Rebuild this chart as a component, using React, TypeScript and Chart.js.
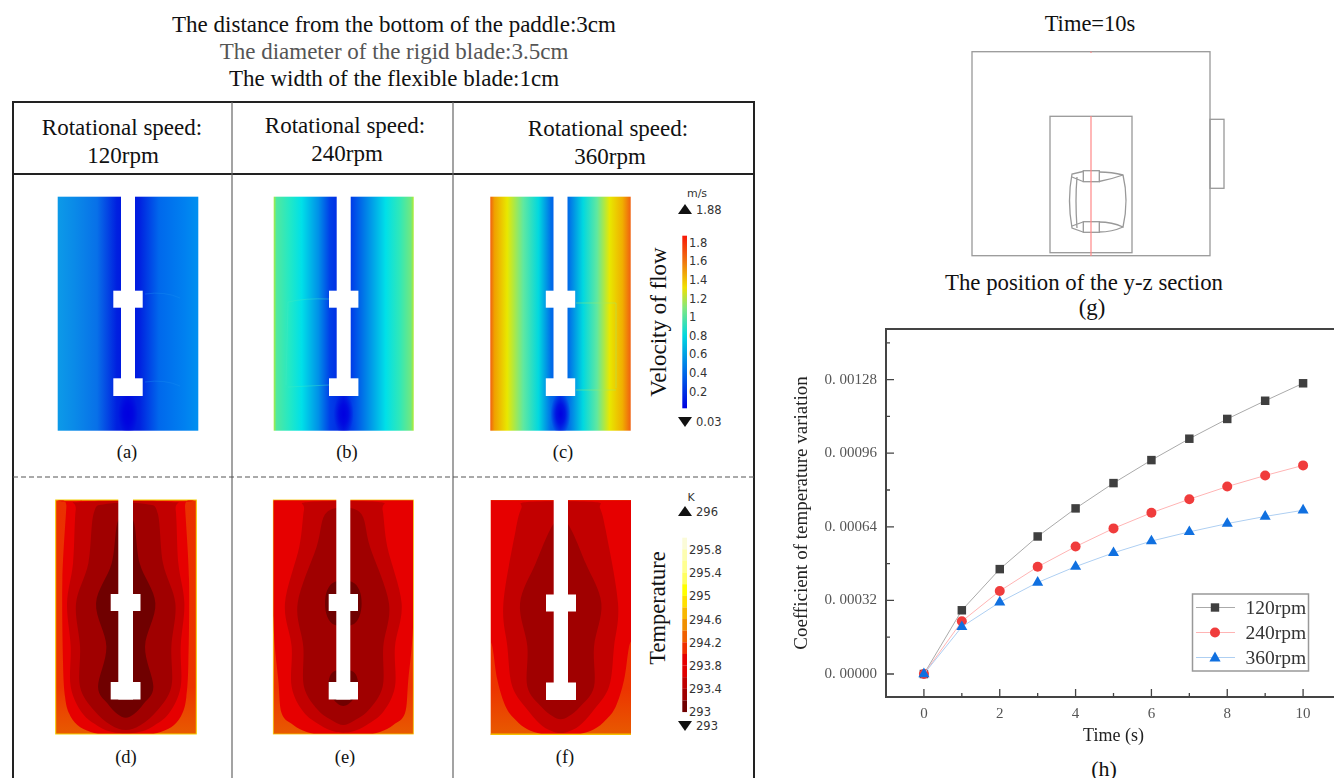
import React, { useEffect, useRef } from "react";
import { Chart, registerables } from "chart.js";

Chart.register(...registerables);

const times = [0, 1, 2, 3, 4, 5, 6, 7, 8, 9, 10];
const rpm120 = [0, 0.000277, 0.000456, 0.000598, 0.00072, 0.00083, 0.00093, 0.001023, 0.001109, 0.001188, 0.001264];
const rpm240 = [0, 0.000229, 0.000361, 0.000466, 0.000554, 0.000633, 0.000701, 0.00076, 0.000815, 0.000863, 0.000907];
const rpm360 = [0, 0.000205, 0.000312, 0.000398, 0.000467, 0.000527, 0.000578, 0.000618, 0.000654, 0.000685, 0.000712];
const seriesNames = ["120rpm", "240rpm", "360rpm"];
const yTickValues = [0, 0.00016, 0.00032, 0.00048, 0.00064, 0.0008, 0.00096, 0.00112, 0.00128, 0.00144];
const yTickLabels = ["0. 00000", "", "0. 00032", "", "0. 00064", "", "0. 00096", "", "0. 00128", ""];
const xTickLabels = ["0", "", "2", "", "4", "", "6", "", "8", "", "10"];
const velocityLabels = ["1.8", "1.6", "1.4", "1.2", "1", "0.8", "0.6", "0.4", "0.2"];
const temperatureLabels = ["295.8", "295.4", "295", "294.6", "294.2", "293.8", "293.4", "293"];
const temperatureBands = ["#fbfbd8", "#fdfdb0", "#ffff90", "#ffff60", "#ffff00", "#ffe000", "#f8b800", "#f09000", "#f06000", "#f03000", "#e60000", "#e00000", "#c00000", "#a00000", "#700000"];

const SERIF = "'Liberation Serif', serif";
const SANS = "'DejaVu Sans', sans-serif";

type Prof = [number, number][];

function blob(prof: Prof, cx: number, off: number) {
  const right = prof.map(([y, h]) => [cx + h / 3, off + y / 3]);
  const left = prof.filter(([, h]) => h > 0).map(([y, h]) => [cx - h / 3, off + y / 3]).reverse();
  const p = [...right, ...left];
  const n = p.length;
  let d = `M${p[0][0]},${p[0][1]}`;
  for (let i = 0; i < n; i++) {
    const a = p[(i - 1 + n) % n], b = p[i], c = p[(i + 1) % n], e = p[(i + 2) % n];
    d += `C${b[0] + (c[0] - a[0]) / 6},${b[1] + (c[1] - a[1]) / 6} ${c[0] - (e[0] - b[0]) / 6},${c[1] - (e[1] - b[1]) / 6} ${c[0]},${c[1]}`;
  }
  return d + "Z";
}

const T = ({ x, y, s, c = "#111", a = "middle", f = SERIF, r, children }: any) => (
  <text x={x} y={y} fontSize={s} fill={c} textAnchor={a} fontFamily={f} dominantBaseline="central"
    transform={r ? `rotate(${r} ${x} ${y})` : undefined}>{children}</text>
);

const Paddle = ({ sx0, sx1, hx0, hx1, y0, h1, h2, h3, h4 }: any) => (
  <g fill="#fff">
    <rect x={sx0} y={y0 - 1} width={sx1 - sx0} height={h4 - y0 + 1} />
    <rect x={hx0} y={h1} width={hx1 - hx0} height={h2 - h1} />
    <rect x={hx0} y={h3} width={hx1 - hx0} height={h4 - h3} />
  </g>
);

const velA = [["0", "#0c9ae8"], [".12", "#0a8ae8"], [".28", "#0870e8"], [".42", "#0020e0"], [".5", "#0010e0"], [".58", "#0020e0"], [".72", "#0068ec"], [".9", "#0080f0"], ["1", "#0090f0"]];
const velB = [["0", "#a8ec40"], [".02", "#50e8a0"], [".12", "#20e8c8"], [".2", "#00e0e8"], [".32", "#0090e8"], [".4", "#0040e8"], [".5", "#0020e0"], [".56", "#0040e8"], [".68", "#0090e8"], [".8", "#00e0e8"], [".9", "#30e8b8"], [".98", "#70e880"], ["1", "#b0ec30"]];
const velC = [["0", "#f06010"], [".03", "#f0a000"], [".12", "#e8e800"], [".235", "#60e8a0"], [".345", "#00d8e0"], [".43", "#0070e8"], [".5", "#0040e8"], [".56", "#0070e8"], [".66", "#00d8e0"], [".76", "#60e8a0"], [".85", "#e8e800"], [".94", "#f0b000"], ["1", "#f06010"]];

function Heat() {
  return (
    <svg width={1334} height={778} style={{ position: "absolute", left: 0, top: 0 }}>
      <defs>
        {[velA, velB, velC].map((st, i) => (
          <linearGradient key={i} id={`v${i}`} x1="0" x2="1" y1="0" y2="0">
            {st.map(([o, c]) => <stop key={o} offset={o} stopColor={c} />)}
          </linearGradient>
        ))}
        <radialGradient id="spot">
          <stop offset="0" stopColor="#0000e0" />
          <stop offset=".45" stopColor="#0000e0" stopOpacity=".75" />
          <stop offset="1" stopColor="#0000e0" stopOpacity="0" />
        </radialGradient>
        <linearGradient id="vbar" x1="0" x2="0" y1="0" y2="1">
          <stop offset="0" stopColor="#f81808" />
          <stop offset=".14" stopColor="#f07010" />
          <stop offset=".3" stopColor="#f0e000" />
          <stop offset=".42" stopColor="#80e880" />
          <stop offset=".58" stopColor="#00d8e0" />
          <stop offset=".78" stopColor="#0070e8" />
          <stop offset="1" stopColor="#0000e0" />
        </linearGradient>
        <linearGradient id="heatBase" x1="0" x2="0" y1="0" y2="1">
          <stop offset="0" stopColor="#ea3000" />
          <stop offset=".8" stopColor="#ec3400" />
          <stop offset="1" stopColor="#e85a00" />
        </linearGradient>
        <clipPath id="cd"><rect x={56} y={500.5} width={140} height={233} /></clipPath>
        <clipPath id="ce"><rect x={273.5} y={500.5} width={139.5} height={233} /></clipPath>
        <clipPath id="cf"><rect x={491} y={500.5} width={140} height={233} /></clipPath>
      </defs>

      {/* titles */}
      <T x={394} y={24} s={23}>The distance from the bottom of the paddle:3cm</T>
      <T x={394} y={51} s={23} c="#555">The diameter of the rigid blade:3.5cm</T>
      <T x={394} y={78} s={23}>The width of the flexible blade:1cm</T>

      {/* table */}
      <rect x={13} y={102} width={741} height={690} fill="none" stroke="#222" strokeWidth={2} />
      <line x1={13} x2={754} y1={174} y2={174} stroke="#222" strokeWidth={2} />
      <line x1={232} x2={232} y1={102} y2={778} stroke="#666" strokeWidth={1.2} />
      <line x1={453} x2={453} y1={102} y2={778} stroke="#666" strokeWidth={1.2} />
      <line x1={13} x2={754} y1={477} y2={477} stroke="#555" strokeWidth={1} strokeDasharray="5 3" />

      <T x={122} y={127} s={23}>Rotational speed:</T><T x={123} y={155} s={23}>120rpm</T>
      <T x={345} y={125} s={23}>Rotational speed:</T><T x={347} y={153} s={23}>240rpm</T>
      <T x={608} y={128} s={23}>Rotational speed:</T><T x={610} y={156} s={23}>360rpm</T>

      {/* velocity panels */}
      {[[57.7, 198.3, 128], [273.7, 413.7, 343.7], [490.3, 630.7, 560.5]].map(([a, b, c], i) => (
        <g key={i}>
          <rect x={a} y={196.7} width={b - a} height={234} fill={`url(#v${i})`} />
          <ellipse cx={c} cy={414} rx={10} ry={21} fill="url(#spot)" />
          <rect x={c - 30} y={431} width={60} height={14} fill="#fff" />
          <Paddle sx0={c - 7} sx1={c + 7} hx0={c - 14.7} hx1={c + 14.7} y0={196.7} h1={290.7} h2={307.7} h3={378.3} h4={396} />
        </g>
      ))}
      <path d="M145,294 Q165,291 180,298 M145,382 Q165,379 180,386" fill="none" stroke="#1a8cf0" strokeWidth={0.8} opacity={0.5} />
      <path d="M329,299 Q305,298 288,302 L286,385 M329,385 L288,387" fill="none" stroke="#40e8c0" strokeWidth={0.8} opacity={0.5} />
      <path d="M576,303 L616,303 L616,388 M576,390 L616,390" fill="none" stroke="#a0e860" strokeWidth={0.8} opacity={0.6} />

      <T x={127} y={452} s={18.5}>(a)</T>
      <T x={347} y={452} s={18.5}>(b)</T>
      <T x={563} y={452} s={18.5}>(c)</T>

      {/* temperature panels */}
      <g>
        <rect x={55.7} y={500} width={140.6} height={234} fill="url(#heatBase)" stroke="#f4d000" strokeWidth={1} />
        <g clipPath="url(#cd)">
          <path d={blob([[64, 178], [80, 178], [300, 190], [550, 188], [650, 182], [700, 170], [735, 145], [756, 105], [768, 50], [772, 0]], 125.7, 480)} fill="#e60000" />
          <path d={blob([[66, 135], [90, 150], [250, 158], [370, 176], [500, 165], [620, 165], [700, 130], [740, 80], [756, 40], [760, 0]], 125.7, 480)} fill="#c20000" />
          <path d={blob([[72, 60], [100, 96], [250, 112], [370, 149], [500, 137], [620, 137], [690, 96], [735, 45], [750, 0]], 125.7, 480)} fill="#a00000" />
          <path d={blob([[120, 22], [250, 42], [370, 89], [500, 58], [620, 83], [670, 55], [702, 25], [713, 0]], 125.7, 480)} fill="#700000" />
        </g>
        <Paddle sx0={118.3} sx1={133} hx0={110.7} hx1={140.5} y0={500} h1={594} h2={611} h3={682} h4={699.5} />
      </g>
      <g>
        <rect x={273.3} y={500} width={140} height={234} fill="url(#heatBase)" stroke="#f4c000" strokeWidth={0.8} />
        <g clipPath="url(#ce)">
          <path d={blob([[50, 215], [420, 210], [600, 195], [700, 185], [735, 150], [756, 110], [768, 55], [772, 0]], 343.3, 480)} fill="#e60000" />
          <path d={blob([[66, 105], [90, 118], [200, 132], [370, 175], [500, 155], [620, 155], [695, 120], [735, 70], [754, 30], [758, 0]], 343.3, 480)} fill="#c20000" />
          <path d={blob([[95, 48], [200, 80], [370, 137], [500, 120], [620, 118], [690, 76], [722, 32], [735, 0]], 343.3, 480)} fill="#a00000" />
          <path d={blob([[305, 25], [330, 48], [370, 55], [410, 48], [435, 25]], 343.3, 480)} fill="#700000" />
          <path d={blob([[575, 30], [620, 45], [660, 28], [678, 0]], 343.3, 480)} fill="#700000" />
        </g>
        <Paddle sx0={336.3} sx1={350.3} hx0={328.7} hx1={358} y0={500} h1={594} h2={611} h3={682} h4={699.5} />
      </g>
      <g>
        <rect x={490.7} y={500} width={140.3} height={235} fill="url(#heatBase)" />
        <rect x={490.7} y={733.5} width={140.3} height={1.5} fill="#f4c000" />
        <g clipPath="url(#cf)">
          <path d={blob([[50, 225], [420, 225], [500, 205], [600, 190], [680, 165], [720, 135], [748, 100], [764, 50], [770, 0]], 560.7, 480)} fill="#e60000" />
          <path d={blob([[66, 100], [85, 118], [150, 135], [370, 172], [500, 160], [620, 145], [695, 95], [738, 55], [756, 20], [759, 0]], 560.7, 480)} fill="#c20000" />
          <path d={blob([[130, 20], [250, 75], [370, 122], [500, 100], [620, 100], [680, 58], [708, 25], [718, 0]], 560.7, 480)} fill="#a00000" />
        </g>
        <Paddle sx0={553.7} sx1={568} hx0={546} hx1={576} y0={500} h1={594.5} h2={611.5} h3={682.5} h4={700} />
      </g>
      <T x={126} y={757} s={18.5}>(d)</T>
      <T x={345} y={757} s={18.5}>(e)</T>
      <T x={565} y={757} s={18.5}>(f)</T>

      {/* colour bars */}
      <T x={697} y={193} s={11} c="#333" f={SANS}>m/s</T>
      <path d="M678,214 L685,204 L692,214 Z" fill="#111" />
      <T x={696} y={210} s={11.5} c="#333" a="start" f={SANS}>1.88</T>
      <rect x={682.3} y={235.7} width={4.7} height={172.6} fill="url(#vbar)" />
      {velocityLabels.map((t, i) => (
        <T key={t} x={689} y={242.7 + i * 18.6} s={11.5} c="#333" a="start" f={SANS}>{t}</T>
      ))}
      <path d="M678,417 L692,417 L685,427 Z" fill="#111" />
      <T x={696} y={422} s={11.5} c="#333" a="start" f={SANS}>0.03</T>
      <T x={658} y={322} s={23} r={-90}>Velocity of flow</T>

      <T x={691} y={497} s={11} c="#333" f={SANS}>K</T>
      <path d="M678,516 L685,506 L692,516 Z" fill="#111" />
      <T x={696} y={512} s={11.5} c="#333" a="start" f={SANS}>296</T>
      {temperatureBands.map((c, i) => (
        <rect key={i} x={682.3} y={537.7 + i * 11.62} width={4.7} height={11.7} fill={c} />
      ))}
      {temperatureLabels.map((t, i) => (
        <T key={t} x={689} y={550 + i * 23.2} s={11.5} c="#333" a="start" f={SANS}>{t}</T>
      ))}
      <path d="M678,721 L692,721 L685,731 Z" fill="#111" />
      <T x={696} y={726} s={11.5} c="#333" a="start" f={SANS}>293</T>
      <T x={657} y={608} s={22.5} r={-90}>Temperature</T>

      {/* section diagram */}
      <T x={1090} y={23} s={22.5}>Time=10s</T>
      <g fill="none" stroke="#999" strokeWidth={1.3}>
        <rect x={972} y={51.7} width={238} height={204} />
        <rect x={1050} y={116.3} width={82} height={136.4} />
        <rect x={1210} y={119.3} width={14} height={69} />
        <rect x={1083.3} y={170.7} width={16} height={11} />
        <rect x={1083.3} y={221.7} width={16} height={10.6} />
        <path d="M1099,172 Q1112,172 1123,175 Q1129,200 1123,227 Q1112,222 1099,222" />
        <path d="M1099,181.5 Q1112,179 1123,175 M1099,232 Q1112,232 1123,227" />
        <path d="M1083,171.5 L1072,174 Q1067,200 1072,228 L1083,232" />
        <path d="M1072,177 L1083,181.5 M1072,226 L1083,222 M1077,177 Q1075,200 1077,228" />
      </g>
      <line x1={1091} x2={1091} y1={116} y2={256} stroke="#f88" strokeWidth={1.2} />
      <line x1={1091} x2={1091} y1={51.5} y2={53} stroke="#f88" strokeWidth={1.2} />
      <T x={1084} y={282} s={22.8}>The position of the y-z section</T>
      <T x={1092} y={307} s={22.8}>(g)</T>
      <T x={1104} y={768} s={22}>(h)</T>
    </svg>
  );
}

export default function App() {
  const ref = useRef<HTMLCanvasElement>(null);
  useEffect(() => {
    const frame = {
      id: "frame",
      afterDraw(chart: any) {
        const { ctx, chartArea: a, scales } = chart;
        ctx.save();
        ctx.strokeStyle = "#444";
        ctx.lineWidth = 2;
        ctx.strokeRect(a.left, a.top, a.right - a.left, a.bottom - a.top);
        ctx.lineWidth = 1.3;
        ctx.beginPath();
        scales.y.ticks.forEach((t: any, i: number) => {
          const py = scales.y.getPixelForValue(t.value);
          const len = yTickLabels[i] ? 8 : 4;
          ctx.moveTo(a.left, py);
          ctx.lineTo(a.left + len, py);
        });
        scales.x.ticks.forEach((t: any) => {
          if (t.value < 0 || t.value > 10) return;
          const px = scales.x.getPixelForValue(t.value);
          const len = xTickLabels[t.value] ? 8 : 4;
          ctx.moveTo(px, a.bottom);
          ctx.lineTo(px, a.bottom - len);
        });
        ctx.stroke();

        // legend, read from the datasets
        const lx = 1192.5 - 780, ly = 594 - 320, lw = 116, lh = 77;
        ctx.fillStyle = "#fff";
        ctx.fillRect(lx, ly, lw, lh);
        ctx.strokeStyle = "#999";
        ctx.lineWidth = 1.5;
        ctx.strokeRect(lx, ly, lw, lh);
        chart.data.datasets.forEach((ds: any, i: number) => {
          const y = ly + 13.5 + i * 25;
          ctx.strokeStyle = ds.borderColor;
          ctx.lineWidth = 1;
          ctx.beginPath();
          ctx.moveTo(lx + 3.5, y);
          ctx.lineTo(lx + 42.5, y);
          ctx.stroke();
          const cx = lx + 22.5;
          ctx.fillStyle = ds.pointBackgroundColor;
          ctx.beginPath();
          if (ds.pointStyle === "rect") {
            ctx.rect(cx - 4.2, y - 4.2, 8.4, 8.4);
          } else if (ds.pointStyle === "circle") {
            ctx.arc(cx, y, ds.pointRadius, 0, Math.PI * 2);
          } else {
            ctx.moveTo(cx, y - 6);
            ctx.lineTo(cx + 5.6, y + 4);
            ctx.lineTo(cx - 5.6, y + 4);
            ctx.closePath();
          }
          ctx.fill();
          ctx.fillStyle = "#333";
          ctx.font = `19.5px ${SERIF}`;
          ctx.textBaseline = "middle";
          ctx.textAlign = "left";
          ctx.fillText(ds.label, lx + 53, y + 1);
        });
        ctx.restore();
      },
    };
    const toXY = (v: number[]) => v.map((y, i) => ({ x: times[i], y }));
    const chart = new Chart(ref.current!, {
      type: "line",
      data: {
        datasets: [
          { label: seriesNames[0], data: toXY(rpm120), order: 2, borderColor: "#aaaaaa", borderWidth: 1, pointStyle: "rect", pointRadius: 6, pointBackgroundColor: "#3f3f3f", pointBorderWidth: 0, tension: 0, clip: false },
          { label: seriesNames[1], data: toXY(rpm240), order: 1, borderColor: "#ffb4b4", borderWidth: 1, pointStyle: "circle", pointRadius: 5, pointBackgroundColor: "#f03c3c", pointBorderWidth: 0, tension: 0, clip: false },
          { label: seriesNames[2], data: toXY(rpm360), order: 0, borderColor: "#aecff2", borderWidth: 1, pointStyle: "triangle", pointRadius: 6.4, pointBackgroundColor: "#1070e0", pointBorderWidth: 0, tension: 0, clip: false },
        ] as any,
      },
      plugins: [frame],
      options: {
        responsive: false,
        animation: false,
        layout: { padding: { top: 9, right: 39, bottom: 31, left: 0 } },
        plugins: { legend: { display: false }, tooltip: { enabled: false } },
        scales: {
          x: {
            type: "linear",
            min: -1,
            max: 11,
            afterFit: (s: any) => { s.height = 50; },
            afterBuildTicks: (s: any) => { s.ticks = times.map((value) => ({ value })); },
            grid: { display: false, drawTicks: false },
            border: { display: false },
            ticks: {
              padding: 8,
              maxRotation: 0,
              autoSkip: false,
              color: "#555",
              font: { family: SERIF, size: 15 },
              callback: (v: any) => xTickLabels[v] ?? "",
            },
            title: { display: true, text: "Time (s)", color: "#222", font: { family: SERIF, size: 18 }, padding: 0 },
          },
          y: {
            type: "linear",
            min: -0.0001,
            max: 0.0015,
            afterFit: (s: any) => { s.width = 106; s.paddingTop = 0; s.paddingBottom = 0; },
            afterBuildTicks: (s: any) => { s.ticks = yTickValues.map((value) => ({ value })); },
            grid: { display: false, drawTicks: false },
            border: { display: false },
            ticks: {
              padding: 9,
              autoSkip: false,
              color: "#555",
              font: { family: SERIF, size: 15 },
              callback: (_v: any, i: number) => yTickLabels[i] ?? "",
            },
            title: { display: true, text: "Coefficient of temperature variation", color: "#222", font: { family: SERIF, size: 19 }, padding: { top: 11, bottom: 0 } },
          },
        },
      } as any,
    });
    return () => chart.destroy();
  }, []);
  return (
    <div style={{ position: "fixed", left: 0, top: 0, width: 1334, height: 778, overflow: "hidden", background: "#fff", filter: "blur(0.45px)" }}>
      <Heat />
      <canvas ref={ref} width={600} height={458} style={{ position: "absolute", left: 780, top: 320 }} />
    </div>
  );
}
